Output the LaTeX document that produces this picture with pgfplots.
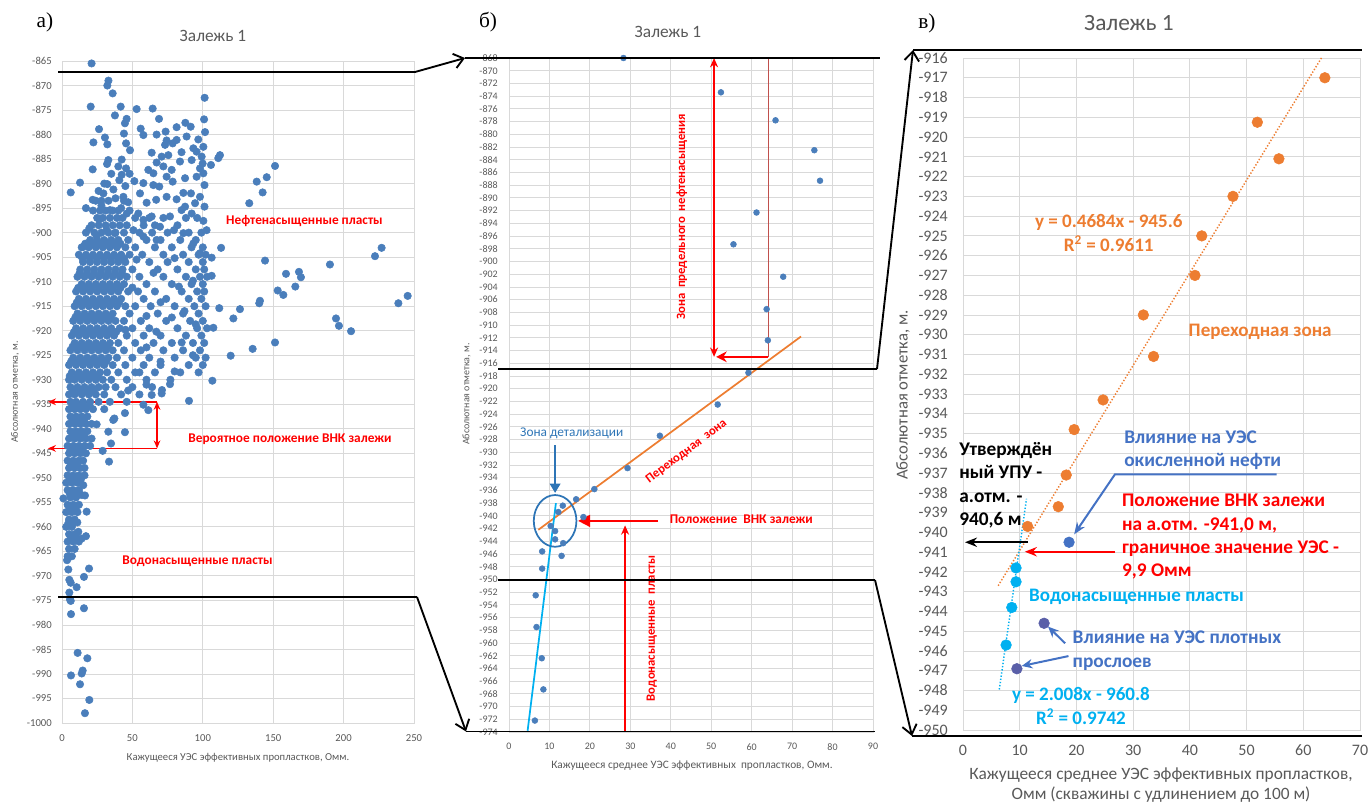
\documentclass[border=0pt]{standalone}
\usepackage{pgfplots}
\pgfplotsset{compat=1.18}
\usepackage{fontspec}
\setmainfont{Carlito}
\newfontfamily\serif{Liberation Serif}
\usetikzlibrary{arrows.meta}
\definecolor{mkblue}{HTML}{4A7EBB}
\definecolor{gridc}{HTML}{D9D9D9}
\definecolor{tickc}{HTML}{595959}
\definecolor{orangec}{HTML}{ED7D31}
\definecolor{lblue}{HTML}{00B0F0}
\definecolor{sblue}{HTML}{4472C4}
\definecolor{purp}{HTML}{5A5FA8}
\definecolor{dblue}{HTML}{2E75B6}
\definecolor{dred}{HTML}{C0504D}
\pgfplotsset{myax/.style={scale only axis, anchor=south west, axis line style={gridc}, grid=major,
  major grid style={gridc, line width=0.6pt}, major tick length=0pt,
  ticklabel style={text=tickc}, /pgf/number format/assume math mode=true,
  /pgf/number format/1000 sep={}, clip=false}}
\begin{document}
\begin{tikzpicture}
\useasboundingbox (0,0) rectangle (1028.25pt,-602.25pt);
% ---------------- panel a ----------------
\begin{axis}[myax, at={(46.5pt,-542.25pt)}, width=264pt, height=496.5pt,
  xmin=0, xmax=250, ymin=-1000, ymax=-865, xtick={0,50,...,250}, ytick={-1000,-995,...,-865},
  ticklabel style={font=\fontsize{8}{9}\selectfont},
  yticklabel style={anchor=east, inner sep=0pt, xshift=-7.5pt},
  xticklabel style={anchor=center, inner sep=0pt, yshift=-11pt}]
\addplot[only marks, mark=*, mark size=2.8pt, mark options={fill=mkblue, draw=mkblue}] coordinates {
(21,-865.5)(33,-869)(32.2,-870)(36,-871.6)(101.3,-872.5)(20.4,-874.3)(41.7,-874.3)(53,-874.8)(64.4,-874.7)(37.6,-876.1)
(45.9,-876.8)(44.7,-877.7)(68.9,-876.8)(87.6,-877.6)(100.9,-876.9)(26.3,-878.9)(55.9,-878.8)(81.4,-878.5)(91.4,-878.4)(44,-879.8)
(57.8,-880.1)(67.2,-880)(73.6,-879.4)(88.5,-880.4)(101.6,-879.5)(30.5,-880.6)(22.3,-881.6)(32.2,-882)(45.5,-881.8)(74.3,-881.2)
(81.4,-881.1)(96.8,-881)(100.4,-882.5)(48.3,-883.2)(73.2,-882.1)(78.6,-881.8)(93.3,-882.8)(63.7,-883.7)(70.8,-884.5)(75.5,-884.2)
(84.9,-883.6)(95.6,-883.5)(99.2,-884.5)(32.9,-885.2)(42.4,-885.1)(67.2,-885.7)(83.8,-885.5)(92.1,-885.2)(99.9,-885.9)(21.8,-887.1)
(45.5,-886.9)(61.3,-887.2)(72,-886.5)(77.9,-887.2)(98,-886.9)(100.4,-887.9)(42.4,-888.2)(64.9,-887.9)(74.3,-888.6)(87.4,-888.9)
(95.6,-888.6)(6.2,-891.8)(12.8,-889.8)(32.2,-890.1)(40.7,-889.3)(51.4,-889.5)(57.8,-889.9)(64.9,-890.3)(69.1,-890.6)(78.6,-889.6)
(86.2,-891.9)(91.6,-892)(98,-892.7)(101.2,-890.3)(17,-895)(21.8,-893.3)(29.4,-892)(36.5,-891.2)(43.6,-892.7)(55.4,-892)
(60.1,-893.9)(66.9,-893.3)(74.3,-892.7)(81.4,-893.2)(87.4,-894.7)(94.5,-894)(101.2,-894.7)(19.4,-899.1)(26.5,-897.3)(34.1,-895.4)
(42,-895)(46,-896.1)(54.2,-896.1)(57.8,-897.4)(63.7,-896.7)(69.6,-898.8)(76.7,-896.7)(84.9,-895.4)(92.1,-896.1)(100.4,-897.6)
(102.7,-899.5)(15.2,-902.9)(24.6,-900.8)(31.7,-899.5)(37.6,-900.1)(50.7,-899.5)(57.8,-900.8)(67.2,-901.5)(79.5,-899.5)(86.2,-900.1)
(93.3,-902.2)(98,-904.2)
(32,-886)(40,-886.5)(35,-888)(48,-888)(30,-890)(45,-890.5)(26,-891.5)(38,-893)(47,-893.8)(28,-894.5)
(112.2,-884.2)(111,-884.8)(105.8,-886.2)(151.3,-886.4)(145.4,-888.7)(138.3,-889.6)(142.5,-891.8)(133,-894)(113,-903.1)(227,-903.1)
(222.3,-904.8)(144.2,-905.7)(190.3,-906.5)(106.3,-905.1)(159.1,-908.4)(168.3,-908)(169.7,-909.1)(106.3,-908.8)(165.7,-911)(153.2,-911.8)
(157.2,-912.7)(140.6,-913.9)(140.1,-914.4)(245.5,-912.9)(238.9,-914.4)(111.7,-915.4)(126.4,-915.6)(121.7,-917.5)(194.6,-917.5)(196.7,-919)
(205.3,-920.1)(107.5,-919.4)(151.3,-922.4)(135.4,-923.7)(119.8,-925.1)(106.8,-930.2)
(24,-893.5)(28,-893.5)(33,-893.5)(44,-893.5)
(22,-895.5)(27,-895.5)(31,-895.5)(36,-895.5)(40,-895.5)(48,-895.5)
(25,-897)(29,-897)(34,-897)(39,-897)(43,-897)(52,-897)(62,-897)(72,-897)(88,-897)(96,-897)
(21,-898.5)(26,-898.5)(31,-898.5)(36,-898.5)(41,-898.5)(46,-898.5)(58,-898.5)(66,-898.5)(82,-898.5)
(17,-900)(23,-900)(28,-900)(33,-900)(38,-900)(44,-900)(55,-900)(64,-900)(75,-900)(90,-900)(99,-900)
(20,-901.5)(25,-901.5)(30,-901.5)(35,-901.5)(40,-901.5)(47,-901.5)(60,-901.5)(70,-901.5)(84,-901.5)(95,-901.5)
(14,-903)(19,-903)(24,-903)(29,-903)(34,-903)(39,-903)(45,-903)(52,-903)(66,-903)(78,-903)(92,-903)(100,-903)
(12,-904.5)(17,-904.5)(22,-904.5)(27,-904.5)(32,-904.5)(37,-904.5)(42,-904.5)(48,-904.5)(57,-904.5)(72,-904.5)(86,-904.5)(97,-904.5)(102,-904.5)
(15,-906)(20,-906)(25,-906)(30,-906)(35,-906)(40,-906)(45,-906)(62,-906)(75,-906)(90,-906)(100,-906)
(13,-907.5)(18,-907.5)(23,-907.5)(28,-907.5)(33,-907.5)(38,-907.5)(43,-907.5)(50,-907.5)(68,-907.5)(82,-907.5)(95,-907.5)(101,-907.5)
(11,-909)(16,-909)(21,-909)(26,-909)(31,-909)(36,-909)(41,-909)(46,-909)(55,-909)(72,-909)(88,-909)(98,-909)(103,-909)
(14,-910.5)(19,-910.5)(24,-910.5)(29,-910.5)(34,-910.5)(39,-910.5)(44,-910.5)(60,-910.5)(78,-910.5)(92,-910.5)(100,-910.5)
(10,-912)(15,-912)(20,-912)(25,-912)(30,-912)(35,-912)(40,-912)(47,-912)(54,-912)(66,-912)(85,-912)(96,-912)(101,-912)
(12,-913.5)(17,-913.5)(22,-913.5)(27,-913.5)(32,-913.5)(37,-913.5)(42,-913.5)(58,-913.5)(74,-913.5)(90,-913.5)(99,-913.5)
(9,-915)(14,-915)(19,-915)(24,-915)(29,-915)(34,-915)(39,-915)(45,-915)(52,-915)(63,-915)(80,-915)(94,-915)(102,-915)
(11,-916.5)(16,-916.5)(21,-916.5)(26,-916.5)(31,-916.5)(36,-916.5)(48,-916.5)(68,-916.5)(86,-916.5)(97,-916.5)
(8,-918)(13,-918)(18,-918)(23,-918)(28,-918)(33,-918)(38,-918)(44,-918)(56,-918)(74,-918)(91,-918)(100,-918)
(10,-919.5)(15,-919.5)(20,-919.5)(25,-919.5)(30,-919.5)(35,-919.5)(41,-919.5)(50,-919.5)(62,-919.5)(82,-919.5)(96,-919.5)(103,-919.5)
(7,-921)(12,-921)(17,-921)(22,-921)(27,-921)(32,-921)(37,-921)(46,-921)(58,-921)(70,-921)(88,-921)(99,-921)
(9,-922.5)(14,-922.5)(19,-922.5)(24,-922.5)(29,-922.5)(34,-922.5)(40,-922.5)(52,-922.5)(65,-922.5)(78,-922.5)(93,-922.5)(101,-922.5)
(6,-924)(11,-924)(16,-924)(21,-924)(26,-924)(31,-924)(36,-924)(44,-924)(56,-924)(72,-924)(86,-924)(98,-924)
(8,-925.5)(13,-925.5)(18,-925.5)(23,-925.5)(28,-925.5)(33,-925.5)(39,-925.5)(50,-925.5)(62,-925.5)(80,-925.5)(95,-925.5)(102,-925.5)
(5,-927)(10,-927)(15,-927)(20,-927)(25,-927)(30,-927)(36,-927)(45,-927)(58,-927)(70,-927)(90,-927)(100,-927)
(7,-928.5)(12,-928.5)(17,-928.5)(22,-928.5)(27,-928.5)(32,-928.5)(40,-928.5)(52,-928.5)(66,-928.5)(84,-928.5)(97,-928.5)
(5,-930)(9,-930)(14,-930)(19,-930)(24,-930)(29,-930)(35,-930)(46,-930)(60,-930)(77,-930)
(6,-931.5)(11,-931.5)(16,-931.5)(21,-931.5)(26,-931.5)(31,-931.5)(38,-931.5)(50,-931.5)(64,-931.5)(71,-932.1)
(5,-933)(9,-933)(14,-933)(19,-933)(24,-933)(30,-933)(42,-933)(55,-933)(63.7,-933.1)(70.8,-932.8)(76.7,-930.9)
(6,-934.5)(10,-934.5)(15,-934.5)(20,-934.5)(26,-934.5)(34,-934.5)(46,-934.5)(57.8,-935.1)(90.2,-934.3)
(5,-936)(9,-936)(13,-936)(17,-936)(22,-936)(30,-936)(44.7,-936.8)(61.3,-936.2)
(6,-937.5)(10,-937.5)(14,-937.5)(18,-937.5)(37.2,-937.9)(36.4,-938.2)
(5,-939)(9,-939)(13,-939)(17,-939)(21,-939)(24.6,-939.1)
(6,-940.5)(10,-940.5)(14,-940.5)(18,-940.5)(32.9,-940.6)(44.7,-940.7)
(5,-942)(9,-942)(13,-942)(17,-942)(21,-942)(34.8,-943)
(4,-943.5)(8,-943.5)(12,-943.5)(16,-943.5)(20,-943.5)
(5,-945)(9,-945)(13,-945)(17,-945)(28.9,-944.5)
(4,-946.5)(8,-946.5)(12,-946.5)(15,-946.5)(33.4,-946.7)
(5,-948)(9,-948)(13,-948)(16,-948)
(4,-949.5)(8,-949.5)(12,-949.5)(16,-949.5)
(3,-951)(7,-951)(11,-951)(15.1,-951.5)
(4,-952.5)(8,-952.5)(12,-952.5)
(1,-954.2)(6,-954)(10,-954)(13.9,-953.5)(16.3,-953.6)
(4,-955.5)(8,-955.5)(12,-955.5)
(3,-957)(7,-957)(11,-957)(17.5,-956.9)
(5,-958.5)(9,-958.5)(10.9,-959.1)
(3,-960)(7,-960)(11.6,-961)
(5,-961.5)(9,-961.5)(13.9,-962.4)(17,-961.9)
(4,-963)(8,-963)(12,-963)
(5,-964.5)(9,-964.5)
(4,-966)(7,-966)(3.6,-966.8)
(4.5,-968.7)(19.2,-968.5)(15.6,-970.2)(5.2,-970.8)(6.2,-971.4)(10.4,-972.3)(5.2,-973.4)(5.7,-974.8)(6.2,-975.1)(15.6,-976.6)
(6.4,-977.8)(11.1,-985.7)(18,-986.8)(6.4,-990.3)(14,-989.9)(14.7,-989.3)(12.8,-992.1)(19.4,-995.3)(16.3,-998)
(16.5,-902.25)(21.5,-902.25)(26.5,-902.25)(31.5,-902.25)(36.5,-902.25)(41.5,-902.25)
(14.5,-905.25)(19.5,-905.25)(24.5,-905.25)(29.5,-905.25)(34.5,-905.25)(39.5,-905.25)(44,-905.25)
(12.5,-908.25)(17.5,-908.25)(22.5,-908.25)(27.5,-908.25)(32.5,-908.25)(37.5,-908.25)(42.5,-908.25)
(11.5,-911.25)(16.5,-911.25)(21.5,-911.25)(26.5,-911.25)(31.5,-911.25)(36.5,-911.25)(41.5,-911.25)
(10.5,-914.25)(15.5,-914.25)(20.5,-914.25)(25.5,-914.25)(30.5,-914.25)(35.5,-914.25)(40.5,-914.25)
(9.5,-917.25)(14.5,-917.25)(19.5,-917.25)(24.5,-917.25)(29.5,-917.25)(34.5,-917.25)
(8.5,-920.25)(13.5,-920.25)(18.5,-920.25)(23.5,-920.25)(28.5,-920.25)(33.5,-920.25)(38.5,-920.25)
(7.5,-923.25)(12.5,-923.25)(17.5,-923.25)(22.5,-923.25)(27.5,-923.25)(32.5,-923.25)
(6.5,-926.25)(11.5,-926.25)(16.5,-926.25)(21.5,-926.25)(26.5,-926.25)(31.5,-926.25)
(5.5,-929.25)(10.5,-929.25)(15.5,-929.25)(20.5,-929.25)(25.5,-929.25)
(7.5,-932.25)(12.5,-932.25)(17.5,-932.25)(22.5,-932.25)
(7.5,-935.25)(11.5,-935.25)(15.5,-935.25)(19.5,-935.25)
(7.5,-938.25)(11.5,-938.25)(15.5,-938.25)
(7.5,-941.25)(11.5,-941.25)(15.5,-941.25)
(6.5,-944.25)(10.5,-944.25)(14.5,-944.25)
(6.5,-947.25)(10.5,-947.25)
(5.5,-950.25)(9.5,-950.25)(13.5,-950.25)
(5.5,-953.25)(9.5,-953.25)
(5.5,-956.25)(9.5,-956.25)
(4.5,-959.25)(7.5,-959.25)
(6.5,-962.25)(10.5,-962.25)
(53,-905.5)(80,-905.2)(65,-908.2)(93,-909.8)(50,-911.2)(83,-911)(70,-914.2)(87,-916)(60,-917)(78,-917.3)
(95,-918.7)(45,-919.8)(67,-920.2)(85,-922.4)(60,-923.4)(93,-925)(70,-926.3)(55,-928.5)(80,-928.3)(47,-932.2)(60,-931)
};
\draw[red, line width=1.1pt, -{Stealth[length=6pt,width=5pt]}] (axis cs:67.5,-934.5) -- (axis cs:-10,-934.5);
\draw[red, line width=1.1pt, -{Stealth[length=6pt,width=5pt]}] (axis cs:67.5,-944) -- (axis cs:-10,-944);
\draw[red, line width=1.1pt, {Stealth[length=6pt,width=5pt]}-{Stealth[length=6pt,width=5pt]}] (axis cs:67.5,-934.5) -- (axis cs:67.5,-944);
\node[text=red, font=\fontsize{10}{12}\selectfont\bfseries] at (axis cs:172.2,-897.6) {Нефтенасыщенные пласты};
\node[text=red, font=\fontsize{10}{12}\selectfont\bfseries] at (axis cs:161.9,-942.1) {Вероятное положение ВНК залежи};
\node[text=red, font=\fontsize{10}{12}\selectfont\bfseries] at (axis cs:96.2,-967.0) {Водонасыщенные пласты};
\end{axis}
% ---------------- panel b ----------------
\begin{axis}[myax, at={(381.75pt,-549pt)}, width=273pt, height=505.5pt,
  xmin=0, xmax=90, ymin=-974, ymax=-868, xtick={0,10,...,90}, ytick={-974,-972,...,-868},
  ticklabel style={font=\fontsize{7.5}{8}\selectfont},
  yticklabel style={anchor=east, inner sep=0pt, xshift=-8.25pt},
  xticklabel style={anchor=center, inner sep=0pt, yshift=-11pt}]
\addplot[orangec, line width=1.3pt] coordinates {(7.25,-942.2) (72.2,-911.8)};
\addplot[lblue, line width=1.3pt] coordinates {(4.6,-973.8) (11.6,-938.0)};
\addplot[only marks, mark=*, mark size=2.2pt, mark options={fill=mkblue, draw=mkblue}] coordinates {
(28.3,-868)(52.4,-873.4)(65.9,-877.8)(75.5,-882.5)(76.9,-887.3)(61.2,-892.3)(55.5,-897.3)(67.8,-902.4)(63.7,-907.5)(64,-912.4)
(59.2,-917.5)(51.6,-922.5)(37.3,-927.4)(29.3,-932.5)(21.1,-935.8)(16.6,-937.4)(13.3,-938.4)(12.2,-939.4)(18.4,-940.2)(10.3,-941.6)
(11.4,-942.4)(11.4,-943.7)(13.4,-944.3)(8.2,-945.6)(13,-946.3)(8.2,-948.3)(6.6,-952.5)(6.8,-957.5)(8.1,-962.4)(8.5,-967.3)(6.4,-972.2)
};
\draw[red, line width=1.3pt, {Stealth[length=7pt,width=6pt]}-{Stealth[length=7pt,width=6pt]}] (axis cs:50.7,-868) -- (axis cs:50.7,-915);
\draw[dred, line width=1.1pt] (axis cs:64.1,-868) -- (axis cs:64.1,-915);
\draw[red, line width=1.3pt, -{Stealth[length=8pt,width=8pt]}] (axis cs:64.1,-915) -- (axis cs:51.2,-915);
\node[text=red, rotate=90, font=\fontsize{9.5}{11}\selectfont\bfseries] at (axis cs:42.7,-893) {Зона\ \ предельного\ \ нефтенасыщения};
\node[text=red, rotate=37, font=\fontsize{9.5}{11}\selectfont\bfseries] at (axis cs:43.9,-929.9) {Переходная\ \ зона};
\node[text=dblue, font=\fontsize{10}{12}\selectfont] at (axis cs:15.5,-927.0) {Зона\ детализации};
\draw[dblue, line width=1.3pt, -{Triangle[length=7pt,width=8pt]}] (axis cs:11.4,-928.9) -- (axis cs:11.4,-936.4);
\draw[dblue, line width=1.3pt] (axis cs:11.4,-940.8) ellipse [x radius=16pt, y radius=19.4pt];
\draw[red, line width=1.3pt, -{Triangle[length=9pt,width=9pt]}] (axis cs:36.9,-940.8) -- (axis cs:17.1,-940.8);
\node[text=red, anchor=west, font=\fontsize{10}{12}\selectfont\bfseries] at (axis cs:38.6,-940.6) {Положение\ \ ВНК залежи};
\draw[red, line width=1.3pt, -{Stealth[length=7pt,width=6pt]}] (axis cs:28.7,-974) -- (axis cs:28.7,-941.5);
\node[text=red, rotate=90, font=\fontsize{9.5}{11}\selectfont\bfseries] at (axis cs:35.3,-957.7) {Водонасыщенные\ \ пласты};
\end{axis}
% ---------------- panel c ----------------
\begin{axis}[myax, at={(722.25pt,-547.5pt)}, width=297.75pt, height=504pt,
  xmin=0, xmax=70, ymin=-950, ymax=-916, xtick={0,10,...,70}, ytick={-950,-949,...,-916},
  ticklabel style={font=\fontsize{12}{14}\selectfont},
  yticklabel style={anchor=east, inner sep=0pt, xshift=-11.25pt},
  xticklabel style={anchor=center, inner sep=0pt, yshift=-15pt}]
\addplot[orangec, line width=1.1pt, dash pattern=on 1pt off 1.4pt] coordinates {(6.2,-942.70) (63.3,-915.95)};
\addplot[lblue, line width=1.1pt, dash pattern=on 1pt off 1.4pt] coordinates {(6.4,-947.95) (11.2,-938.3)};
\addplot[only marks, mark=*, mark size=4pt, mark options={fill=orangec, draw=orangec}] coordinates {
(63.8,-917.0)(51.9,-919.25)(55.7,-921.1)(47.6,-923.0)(42.1,-925.0)(40.9,-927.0)(31.8,-929.0)(33.6,-931.1)
(24.7,-933.3)(19.6,-934.8)(18.2,-937.1)(16.8,-938.7)(11.4,-939.7)};
\addplot[only marks, mark=*, mark size=4pt, mark options={fill=lblue, draw=lblue}] coordinates {
(9.35,-941.8)(9.35,-942.5)(8.6,-943.8)(7.6,-945.7)};
\addplot[only marks, mark=*, mark size=4pt, mark options={fill=sblue, draw=sblue}] coordinates {(18.7,-940.5)};
\addplot[only marks, mark=*, mark size=4pt, mark options={fill=purp, draw=purp}] coordinates {(14.3,-944.6)(9.5,-946.9)};
\node[text=orangec, align=center, font=\fontsize{14.3}{18}\selectfont\bfseries] at (axis cs:25.7,-924.85) {y = 0.4684x - 945.6\\R\textsuperscript{2} = 0.9611};
\node[text=orangec, font=\fontsize{14.3}{16}\selectfont\bfseries] at (axis cs:52.4,-929.85) {Переходная зона};
\node[text=sblue, anchor=west, inner sep=0pt, align=left, font=\fontsize{14.5}{17.5}\selectfont\bfseries] at (axis cs:28.4,-935.83) {Влияние на УЭС\\окисленной нефти};
\draw[sblue, line width=1.5pt, -{Stealth[length=9pt,width=7pt]}] (axis cs:55.3,-937.06) -- (axis cs:26.8,-937.06) -- (axis cs:19.6,-940.1);
\node[text=red, anchor=west, inner sep=0pt, align=left, font=\fontsize{14.5}{17.5}\selectfont\bfseries] at (axis cs:28.0,-940.22) {Положение ВНК залежи\\на а.отм. -941,0 м,\\граничное значение УЭС -\\9,9 Омм};
\draw[red, line width=1.5pt, -{Stealth[length=9pt,width=7pt]}] (axis cs:26.8,-940.98) -- (axis cs:10.9,-940.98);
\node[text=black, anchor=west, inner sep=0pt, align=left, font=\fontsize{14.5}{17.5}\selectfont\bfseries] at (axis cs:-0.7,-937.62) {Утверждён\\ный УПУ -\\а.отм. -\\940,6 м};
\draw[black, line width=1.5pt, -{Stealth[length=9pt,width=7pt]}] (axis cs:11.5,-940.5) -- (axis cs:0.35,-940.5);
\node[text=lblue, anchor=west, inner sep=0pt, font=\fontsize{14.3}{16}\selectfont\bfseries] at (axis cs:11.6,-943.26) {Водонасыщенные пласты};
\node[text=sblue, anchor=west, inner sep=0pt, align=left, font=\fontsize{14.5}{17.5}\selectfont\bfseries] at (axis cs:19.3,-945.98) {Влияние на УЭС плотных\\прослоев};
\draw[sblue, line width=1.5pt, -{Stealth[length=8pt,width=7pt]}] (axis cs:18.0,-945.61) -- (axis cs:15.0,-944.77);
\draw[sblue, line width=1.5pt, -{Stealth[length=8pt,width=7pt]}] (axis cs:18.6,-946.26) -- (axis cs:10.35,-946.76);
\node[text=lblue, align=center, font=\fontsize{14.3}{18}\selectfont\bfseries] at (axis cs:20.8,-948.77) {y = 2.008x - 960.8\\R\textsuperscript{2} = 0.9742};
\end{axis}
% ---------------- overlay (px units) ----------------
\begin{scope}[x=0.75pt, y=-0.75pt]
\node[font=\serif\fontsize{16}{18}\selectfont] at (45,22) {а)};
\node[font=\serif\fontsize{16}{18}\selectfont] at (488,22) {б)};
\node[font=\serif\fontsize{16}{18}\selectfont] at (927,23) {в)};
\node[text=tickc, font=\fontsize{13}{15}\selectfont] at (213,36) {Залежь 1};
\node[text=tickc, font=\fontsize{13}{15}\selectfont] at (668,32) {Залежь 1};
\node[text=tickc, font=\fontsize{17.5}{20}\selectfont] at (1129,23) {Залежь 1};
\node[text=tickc, rotate=90, font=\fontsize{7.5}{9}\selectfont] at (15,392) {Абсолютная отметка, м.};
\node[text=tickc, rotate=90, font=\fontsize{7.5}{9}\selectfont] at (466.7,394) {Абсолютная отметка, м.};
\node[text=tickc, rotate=90, font=\fontsize{12.5}{14}\selectfont] at (903,395) {Абсолютная отметка, м.};
\node[text=tickc, font=\fontsize{8}{10}\selectfont] at (238,757.7) {Кажущееся УЭС эффективных пропластков, Омм.};
\node[text=tickc, font=\fontsize{8.5}{10}\selectfont] at (692,765.7) {Кажущееся среднее УЭС эффективных\ \ пропластков, Омм.};
\node[text=tickc, font=\fontsize{13}{15}\selectfont] at (1161,775) {Кажущееся среднее УЭС эффективных пропластков,};
\node[text=tickc, font=\fontsize{13}{15}\selectfont] at (1161,794.5) {Омм (скважины с удлинением до 100 м)};
% connectors
\draw[black, line width=0.8pt] (58,72) -- (415,72);
\draw[black, line width=1.4pt, -{Straight Barb[length=7pt,width=11pt]}] (415,72) -- (465,58);
\draw[black, line width=0.8pt] (465,58) -- (880,58);
\draw[black, line width=0.8pt] (58,597) -- (417,597);
\draw[black, line width=1.4pt, -{Straight Barb[length=7pt,width=11pt]}] (417,597) -- (466,731.5);
\draw[black, line width=0.8pt] (466,731.5) -- (875,731.5);
\draw[black, line width=0.8pt] (498,369) -- (877,369);
\draw[black, line width=1.4pt, -{Straight Barb[length=7pt,width=11pt]}] (877,369) -- (913,50);
\draw[black, line width=0.8pt] (913,50) -- (1362,50);
\draw[black, line width=0.8pt] (498,580) -- (875,580);
\draw[black, line width=1.4pt, -{Straight Barb[length=7pt,width=11pt]}] (875,580) -- (912,736);
\draw[black, line width=0.8pt] (912,736) -- (1362,736);
\end{scope}
\end{tikzpicture}
\end{document}
